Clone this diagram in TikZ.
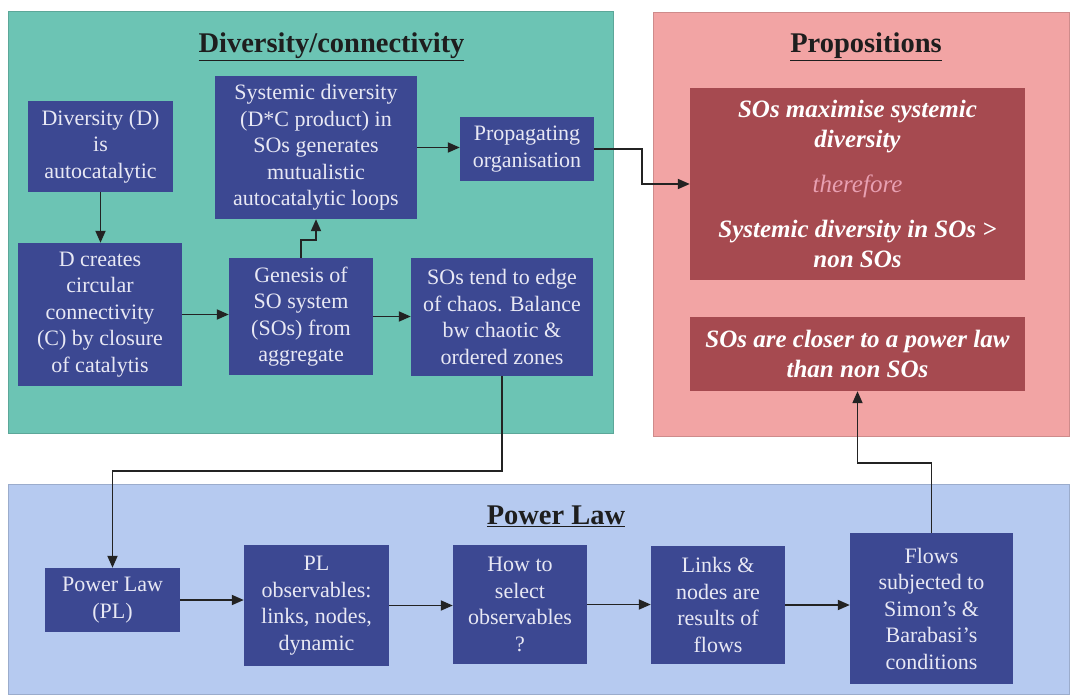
\documentclass[tikz,border=0pt]{standalone}
\usepackage{fontspec}
\setmainfont{Liberation Serif}
\usetikzlibrary{arrows.meta,calc}
\definecolor{tealbg}{RGB}{108,196,180}
\definecolor{pinkbg}{RGB}{242,164,164}
\definecolor{bluebg}{RGB}{182,202,240}
\definecolor{boxblue}{RGB}{60,72,146}
\definecolor{boxred}{RGB}{166,74,80}
\definecolor{txtlight}{RGB}{232,232,244}
\definecolor{therecol}{RGB}{232,160,178}
\definecolor{linecol}{RGB}{35,35,35}
\definecolor{titlecol}{RGB}{30,30,30}
\tikzset{
  panel/.style={draw=#1!85!black, line width=0.6pt, fill=#1, inner sep=0pt},
  bbox/.style={fill=boxblue, text=txtlight, inner sep=0pt, align=center,
    font=\fontsize{22}{26.5}\selectfont},
  rbox/.style={fill=boxred, text=white, inner sep=0pt, align=center,
    font=\fontsize{25}{30}\selectfont\bfseries\itshape},
  ptitle/.style={text=titlecol, inner sep=0pt, font=\fontsize{28.5}{32}\selectfont\bfseries},
  arr/.style={draw=linecol, line width=1.8pt, -{Triangle[length=12pt,width=10pt]}},
}
\begin{document}
\begin{tikzpicture}[x=1pt,y=-1pt]
\useasboundingbox (0,0) rectangle (1075,700);
\fill[white] (0,0) rectangle (1075,700);
% panels
\node[panel=tealbg, minimum width=605pt, minimum height=422pt] (pteal) at (310.5,222) {};
\node[panel=pinkbg, minimum width=416pt, minimum height=424pt] (ppink) at (861,224) {};
\node[panel=bluebg, minimum width=1061pt, minimum height=210pt] (pblue) at (538.5,589) {};
% titles
\node[ptitle] (t1) at (331.5,47) {\underline{Diversity/connectivity}};
\node[ptitle] (t2) at (866,47) {\underline{Propositions}};
\node[ptitle] (t3) at (556,516) {\underline{Power Law}};
% diversity boxes
\node[bbox, minimum width=145pt, minimum height=91pt] (d1) at (100.5,146.5) {Diversity (D)\\is\\autocatalytic};
\node[bbox, minimum width=164pt, minimum height=143pt] (d2) at (100,314.5) {D creates\\circular\\connectivity\\(C) by closure\\of catalytis};
\node[bbox, minimum width=202pt, minimum height=143pt] (sys) at (316,147.5) {Systemic diversity\\(D*C product) in\\SOs generates\\mutualistic\\autocatalytic loops};
\node[bbox, minimum width=134pt, minimum height=64pt] (prop) at (527,149) {Propagating\\organisation};
\node[bbox, minimum width=144pt, minimum height=117pt] (gen) at (301,316.5) {Genesis of\\SO system\\(SOs) from\\aggregate};
\node[bbox, minimum width=182pt, minimum height=118pt] (sos) at (502,317) {SOs tend to edge\\of chaos. Balance\\bw chaotic \&\\ordered zones};
% proposition boxes
\node[rbox, minimum width=335pt, minimum height=192pt] (pb1) at (857.5,184) {SOs maximise systemic\\diversity\\[15pt]{\mdseries\color{therecol}therefore}\\[15pt]Systemic diversity in SOs >\\non SOs};
\node[rbox, minimum width=335pt, minimum height=74pt] (pb2) at (857.5,354) {SOs are closer to a power law\\than non SOs};
% power law boxes
\node[bbox, minimum width=135pt, minimum height=64pt] (pl) at (112.5,600) {Power Law\\(PL)};
\node[bbox, minimum width=145pt, minimum height=121pt] (plo) at (316.5,605.5) {PL\\observables:\\links, nodes,\\dynamic};
\node[bbox, minimum width=134pt, minimum height=119pt] (how) at (520,604.5) {How to\\select\\observables\\?};
\node[bbox, minimum width=134pt, minimum height=118pt] (links) at (718,605) {Links \&\\nodes are\\results of\\flows};
\node[bbox, minimum width=163pt, minimum height=151pt] (flows) at (931.5,608.5) {Flows\\subjected to\\Simon’s \&\\Barabasi’s\\conditions};
% connectors
\draw[arr] (d1.south) -- (d1.south |- d2.north);
\draw[arr] (d2.east) -- (d2.east -| gen.west);
\draw[arr] (gen.east) -- (gen.east -| sos.west);
\draw[arr] (gen.north) -- ++(0,-18) -| (sys.south);
\draw[arr] (sys.east) -- (sys.east -| prop.west);
\draw[arr] (prop.east) -- ++(48,0) |- (pb1.west);
\draw[arr] (sos.south) -- ++(0,95) -| (pl.north);
\draw[arr] (pl.east) -- (pl.east -| plo.west);
\draw[arr] (plo.east) -- (plo.east -| how.west);
\draw[arr] (how.east) -- (how.east -| links.west);
\draw[arr] (links.east) -- (links.east -| flows.west);
\draw[arr] (flows.north) -- ++(0,-70) -| (pb2.south);
\end{tikzpicture}
\end{document}
